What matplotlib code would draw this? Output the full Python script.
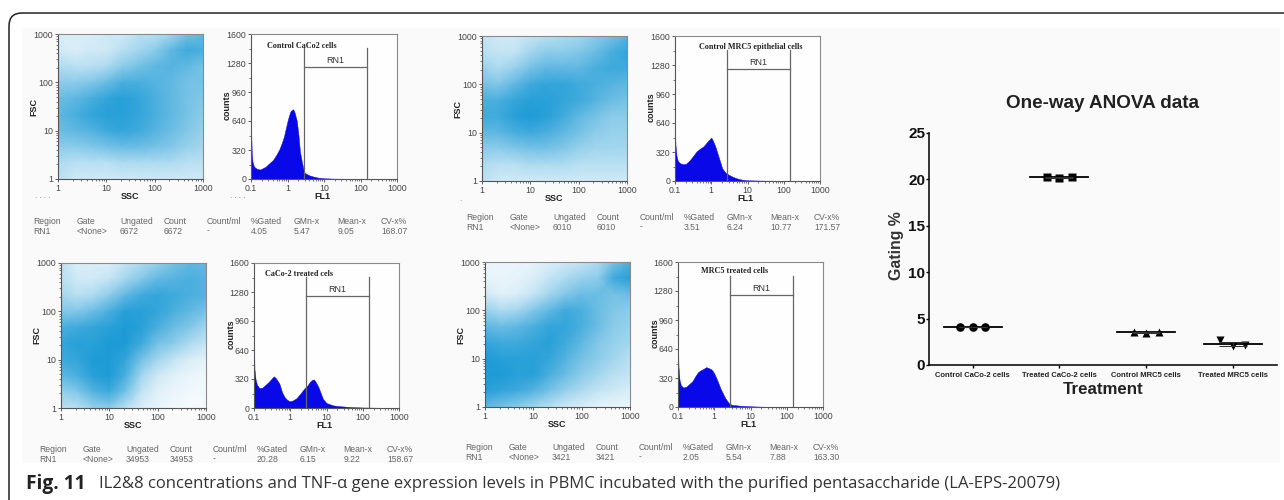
import numpy as np
import matplotlib
matplotlib.use("Agg")
import matplotlib.pyplot as plt
from matplotlib.colors import LinearSegmentedColormap
from matplotlib.patches import PathPatch, Rectangle
from matplotlib.path import Path
from matplotlib.ticker import FixedLocator, FixedFormatter, LogLocator, NullFormatter, MultipleLocator

W, H = 1284, 500
SANS = "Liberation Sans"

# ---------- data ----------
density_top_left = [
    [.15,.15,.15,.20,.20,.30,.30,.40,.60,.70],
    [.20,.15,.20,.20,.30,.40,.50,.70,.85,.80],
    [.35,.30,.30,.35,.50,.60,.70,.75,.70,.60],
    [.50,.50,.55,.65,.80,.80,.75,.70,.60,.60],
    [.65,.70,.80,.90,.95,.90,.80,.70,.60,.55],
    [.70,.80,.90,.95,.95,.90,.80,.70,.60,.50],
    [.65,.70,.75,.85,.90,.85,.75,.65,.55,.45],
    [.50,.50,.55,.60,.65,.65,.60,.55,.45,.40],
    [.35,.30,.30,.30,.35,.35,.35,.35,.30,.30],
    [.30,.20,.20,.20,.20,.20,.20,.20,.20,.20]]
density_bottom_left = [
    [.30,.15,.15,.15,.25,.35,.45,.60,.70,.70],
    [.30,.20,.20,.25,.40,.55,.70,.75,.80,.75],
    [.40,.30,.35,.50,.70,.85,.90,.85,.80,.75],
    [.55,.55,.65,.80,.95,.95,.90,.80,.70,.60],
    [.80,.85,.90,.95,1.0,.95,.80,.65,.55,.40],
    [.90,.95,.95,1.0,1.0,.85,.60,.50,.35,.25],
    [.85,.90,1.0,1.0,.90,.60,.40,.25,.15,.10],
    [.70,.80,.95,1.0,.80,.40,.20,.12,.08,.05],
    [.45,.55,.75,.85,.60,.25,.12,.08,.05,.04],
    [.30,.30,.45,.50,.30,.15,.08,.05,.03,.03]]
density_top_mid = [
    [.25,.20,.20,.25,.30,.35,.40,.50,.60,.75],
    [.30,.25,.25,.40,.50,.50,.55,.65,.80,.90],
    [.45,.35,.45,.60,.70,.70,.70,.80,.85,.85],
    [.60,.55,.70,.85,.90,.90,.85,.80,.75,.70],
    [.80,.80,.90,.95,.95,.90,.85,.75,.65,.60],
    [.85,.85,.95,1.0,.95,.85,.70,.60,.50,.50],
    [.70,.70,.80,.85,.80,.70,.60,.50,.45,.45],
    [.50,.50,.55,.60,.60,.55,.45,.40,.40,.40],
    [.35,.30,.30,.35,.35,.35,.30,.30,.30,.30],
    [.30,.20,.20,.20,.20,.20,.20,.20,.20,.20]]
density_bottom_mid = [
    [.08,.08,.08,.10,.15,.20,.25,.35,.60,.80],
    [.10,.08,.10,.15,.25,.35,.45,.50,.85,.95],
    [.20,.12,.15,.25,.40,.55,.65,.65,.60,.65],
    [.45,.35,.40,.55,.70,.85,.80,.65,.55,.50],
    [.70,.65,.70,.80,.90,.90,.80,.65,.50,.45],
    [.90,.85,.85,.90,.95,.85,.70,.55,.45,.40],
    [1.0,.95,.95,.95,.90,.75,.60,.50,.40,.30],
    [1.0,1.0,.95,.95,.80,.65,.50,.40,.30,.25],
    [.95,.90,.85,.75,.60,.45,.35,.25,.20,.15],
    [.70,.60,.50,.40,.30,.20,.15,.10,.08,.08]]

hist1_x = [.1,.105,.11,.12,.13,.15,.18,.2,.25,.3,.4,.5,.6,.7,.8,.9,1,1.1,1.2,1.3,1.4,1.5,1.6,1.8,2,2.2,2.5,2.8,3,4,5,7,10,20,50,100,150,200]
hist1_y = [620,280,190,140,125,110,105,115,135,165,210,270,330,400,470,560,640,700,745,760,770,755,720,640,480,300,180,90,65,40,28,15,8,4,3,3,2,0]
hist2_x = [.1,.103,.11,.12,.14,.17,.2,.25,.3,.35,.4,.5,.6,.7,.8,.9,1,1.2,1.5,2,2.5,3,3.5,4,4.5,5,6,7,8,10,15,20,50,100,300,600]
hist2_y = [800,430,320,260,220,225,250,285,320,350,330,270,170,120,95,80,75,85,110,170,220,250,290,310,315,290,230,160,100,55,30,22,10,6,3,1]
hist3_x = [.1,.103,.11,.12,.14,.17,.2,.25,.3,.4,.5,.6,.7,.8,.9,1,1.1,1.3,1.5,1.8,2,2.5,3,4,5,7,10,30,100,200]
hist3_y = [650,400,280,220,195,185,190,225,265,330,360,380,410,440,460,480,450,380,300,200,140,90,70,45,30,15,8,4,3,2]
hist4_x = [.1,.103,.11,.12,.14,.17,.2,.25,.3,.35,.4,.5,.6,.7,.8,.9,1,1.2,1.5,2,2.5,3,5,10,20,50,100]
hist4_y = [750,450,300,240,215,225,250,285,340,380,400,420,440,430,420,400,370,300,200,100,45,25,15,8,4,2,1]

gate_edges = [2.75, 151]
gate_top = 1445
gate_level = 1238
decade_ticks = [1, 10, 100, 1000]
decade_labels = ["1", "10", "100", "1000"]
hist_xticks = [0.1, 1, 10, 100, 1000]
hist_xlabels = ["0.1", "1", "10", "100", "1000"]
hist_yticks = [0, 320, 640, 960, 1280, 1600]

table_headers = ["Region", "Gate", "Ungated", "Count", "Count/ml", "%Gated", "GMn-x", "Mean-x", "CV-x%"]
table1 = ["RN1", "<None>", "6672", "6672", "-", "4.05", "5.47", "9.05", "168.07"]
table2 = ["RN1", "<None>", "34953", "34953", "-", "20.28", "6.15", "9.22", "158.67"]
table3 = ["RN1", "<None>", "6010", "6010", "-", "3.51", "6.24", "10.77", "171.57"]
table4 = ["RN1", "<None>", "3421", "3421", "-", "2.05", "5.54", "7.88", "163.30"]

anova_categories = ["Control CaCo-2 cells", "Treated CaCo-2 cells", "Control MRC5 cells", "Treated MRC5 cells"]
anova_points = [[4.05, 4.05, 4.05], [20.28, 20.10, 20.28], [3.51, 3.45, 3.51], [2.70, 2.05, 2.15]]
anova_means = [4.07, 20.22, 3.52, 2.23]
anova_sem = [0.01, 0.06, 0.02, 0.21]
anova_markers = ["o", "s", "^", "v"]
anova_yticks = [0, 5, 10, 15, 20, 25]

# ---------- helpers ----------
plt.rcParams["font.family"] = [SANS, "DejaVu Sans"]
fig = plt.figure(figsize=(W / 100, H / 100), dpi=100, facecolor="white")
page = fig.add_axes([0, 0, 1, 1], zorder=0)
page.set_xlim(0, W); page.set_ylim(H, 0); page.axis("off")

page.add_patch(Rectangle((22, 28), 1258, 435, fc="#fafafa", ec="none"))
page.add_patch(PathPatch(
    Path([(9, 500), (9, 26), (9, 13), (22, 13), (W, 13)],
         [Path.MOVETO, Path.LINETO, Path.CURVE3, Path.CURVE3, Path.LINETO]),
    fc="none", ec="#222222", lw=1.1))


def px_axes(x0, y0, x1, y1):
    return fig.add_axes([x0 / W, 1 - y1 / H, (x1 - x0) / W, (y1 - y0) / H], zorder=2)


def style(ax):
    for s in ("top", "right"):
        ax.spines[s].set_color("#8a8a8a"); ax.spines[s].set_linewidth(0.8)
    for s in ("left", "bottom"):
        ax.spines[s].set_color("#555555"); ax.spines[s].set_linewidth(0.8)
    ax.tick_params(which="major", length=2.5, width=0.6, color="#444444",
                   labelsize=6.3, labelcolor="#444444", pad=1)
    ax.tick_params(which="minor", length=1.3, width=0.5, color="#444444")


cloud_cmap = LinearSegmentedColormap.from_list("cloud", ["#fbfdfe", "#1e9bd6"])
node_x = np.logspace(0, 3, 10)
node_y = np.logspace(3, 0, 10)


def scatter_panel(box, density, ylab_x):
    ax = px_axes(*box)
    ax.set_xscale("log"); ax.set_yscale("log")
    ax.pcolormesh(node_x, node_y, np.array(density), shading="gouraud",
                  cmap=cloud_cmap, vmin=0, vmax=1, rasterized=True)
    ax.set_xlim(1, 1000); ax.set_ylim(1, 1000)
    style(ax)
    for axis in (ax.xaxis, ax.yaxis):
        axis.set_major_locator(FixedLocator(decade_ticks))
        axis.set_major_formatter(FixedFormatter(decade_labels))
        axis.set_minor_locator(LogLocator(base=10, subs=np.arange(2, 10), numticks=12))
        axis.set_minor_formatter(NullFormatter())
    cx = (box[0] + box[2]) / 2
    page.text(cx, box[3] + 17.5, "SSC", fontsize=6.5, fontweight="bold", color="#222222", ha="center", va="center")
    page.text(ylab_x, (box[1] + box[3]) / 2, "FSC", fontsize=6.5, fontweight="bold", color="#222222",
              rotation=90, ha="center", va="center")


def hist_panel(box, hx, hy, title, title_xy, ylab_x):
    ax = px_axes(*box)
    ax.set_xscale("log")
    ax.fill_between(hx, 0, hy, color="#0808e8", lw=0.3)
    ax.set_xlim(0.1, 1000); ax.set_ylim(0, 1600)
    ax.set_facecolor("#fefefe")
    style(ax)
    ax.xaxis.set_major_locator(FixedLocator(hist_xticks))
    ax.xaxis.set_major_formatter(FixedFormatter(hist_xlabels))
    ax.xaxis.set_minor_locator(LogLocator(base=10, subs=np.arange(2, 10), numticks=12))
    ax.xaxis.set_minor_formatter(NullFormatter())
    ax.yaxis.set_major_locator(FixedLocator(hist_yticks))
    ax.yaxis.set_minor_locator(MultipleLocator(160))
    gate = dict(color="#666666", lw=0.9)
    ax.plot([gate_edges[0]] * 2, [0, gate_top], **gate)
    ax.plot([gate_edges[1]] * 2, [0, gate_top], **gate)
    ax.plot(gate_edges, [gate_level] * 2, **gate)
    ax.text(np.sqrt(gate_edges[0] * gate_edges[1]), gate_level + 20, "RN1", fontsize=6.5,
            color="#333333", ha="center", va="bottom")
    cx = (box[0] + box[2]) / 2
    page.text(cx - 2, box[3] + 17.5, "FL1", fontsize=6.5, fontweight="bold", color="#222222", ha="center", va="center")
    page.text(ylab_x, box[1] + 71, "counts", fontsize=6.5, fontweight="bold", color="#222222",
              rotation=90, ha="center", va="center", zorder=5)
    fig.text(title_xy[0] / W, 1 - title_xy[1] / H, title, fontsize=5.85, fontweight="bold",
             family="Liberation Serif", color="#222222", ha="left", va="center", zorder=6)


def table(x0, y0, values):
    for i, (h, v) in enumerate(zip(table_headers, values)):
        xx = x0 + i * 43.5
        page.text(xx, y0, h, fontsize=6.2, color="#666666", ha="left", va="center")
        page.text(xx, y0 + 10, v, fontsize=6.2, color="#666666", ha="left", va="center")


# ---------- flow cytometry panels ----------
scatter_panel((58, 34, 203, 179), density_top_left, 34)
hist_panel((251, 34, 397, 179), hist1_x, hist1_y, "Control CaCo2 cells", (267, 46), 227)
table(33, 221, table1)

scatter_panel((61, 263, 206, 408), density_bottom_left, 37)
hist_panel((254, 263, 399, 408), hist2_x, hist2_y, "CaCo-2 treated cels", (265, 274), 231)
table(39, 449, table2)

scatter_panel((482, 36, 627, 181), density_top_mid, 458)
hist_panel((675, 36, 820, 181), hist3_x, hist3_y, "Control MRC5 epithelial cells", (699, 47), 651)
table(466, 217, table3)

scatter_panel((485, 262, 630, 407), density_bottom_mid, 461)
hist_panel((678, 262, 823, 407), hist4_x, hist4_y, "MRC5 treated cells", (701, 271), 655)
table(465, 447, table4)

for x, y, s in [(43, 199, "· · · ·"), (238, 199, "· · · ·"), (460, 202, "·")]:
    page.text(x, y, s, fontsize=5, color="#666666", ha="center", va="center")

# ---------- one-way ANOVA ----------
ax = px_axes(929.3, 133, 1277, 365)
ax.set_facecolor("none")
ax.set_xlim(-0.5, 3.51); ax.set_ylim(0, 25)
offsets = [-0.144, 0, 0.144]
for i, (pts, m, mean, sem) in enumerate(zip(anova_points, anova_markers, anova_means, anova_sem)):
    ax.plot([i + o for o in offsets], pts, ls="none", marker=m, ms=6.2, color="black", mec="none", clip_on=False)
    ax.plot([i - 0.335, i + 0.335], [mean, mean], color="black", lw=1.3)
    ax.errorbar([i], [mean], yerr=[sem], color="#333333", lw=0.8, capsize=10, capthick=0.8, fmt="none")
for s in ("top", "right"):
    ax.spines[s].set_visible(False)
for s in ("left", "bottom"):
    ax.spines[s].set_linewidth(1.2); ax.spines[s].set_color("#111111")
ax.set_xticks(range(4))
ax.set_xticklabels(anova_categories, fontsize=5.5, fontweight="bold", color="#222222")
ax.set_yticks(anova_yticks)
ax.set_yticklabels([str(v) for v in anova_yticks], fontsize=11, fontweight="bold", color="#111111")
ax.tick_params(axis="x", length=2.5, width=1, pad=2.5)
ax.tick_params(axis="y", length=2.5, width=1, pad=0.5)
page.text(1103, 103, "One-way ANOVA data", fontsize=13.6, fontweight="bold", color="#222222", ha="center", va="center")
page.text(896, 246, "Gating %", fontsize=11.4, fontweight="bold", color="#333333", rotation=90, ha="center", va="center")
page.text(1103, 390, "Treatment", fontsize=12.2, fontweight="bold", color="#222222", ha="center", va="center")

# ---------- caption ----------
page.text(26, 484, "Fig. 11", fontsize=13.8, fontweight="bold", family="Open Sans", color="#222222", ha="left", va="center")
page.text(99, 484, "IL2&8 concentrations and TNF-α gene expression levels in PBMC incubated with the purified pentasaccharide (LA-EPS-20079)",
          fontsize=12, family="Open Sans", color="#333333", ha="left", va="center")

fig.savefig("out.png", dpi=100, facecolor="white")
